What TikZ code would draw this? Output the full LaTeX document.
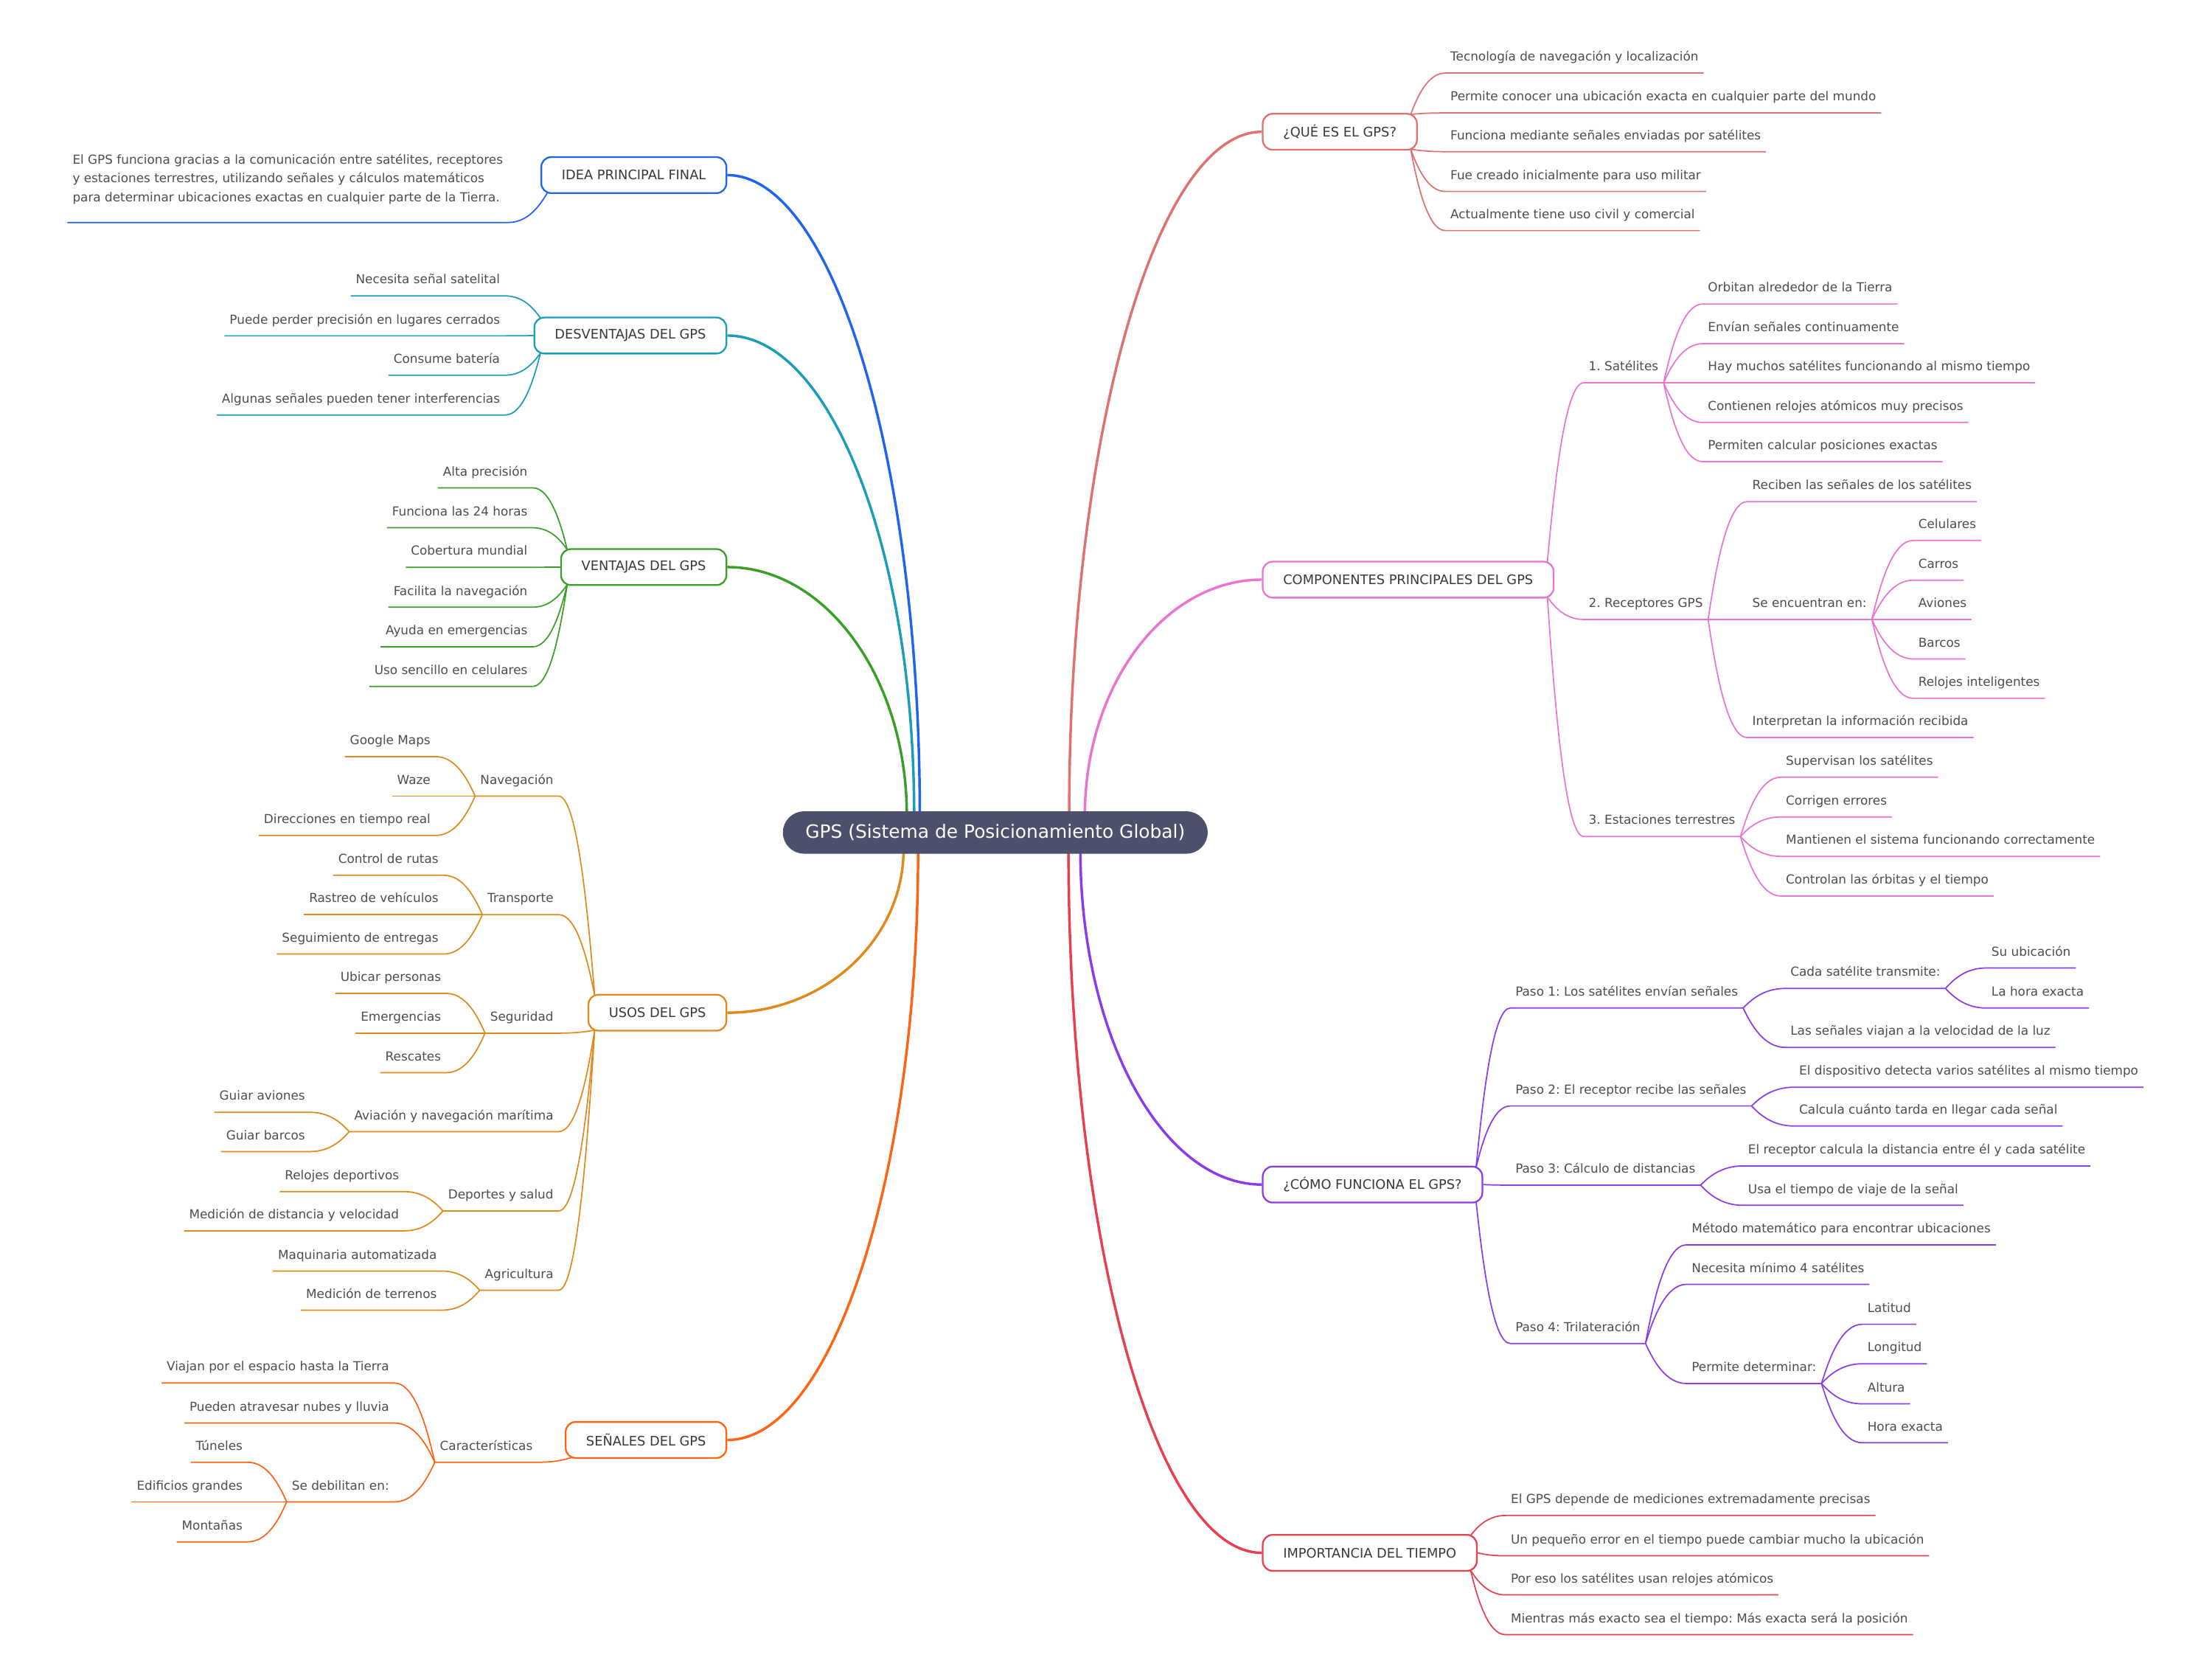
\documentclass[tikz,border=0pt]{standalone}
\usepackage{fontspec}
\setmainfont{DejaVu Sans}
\usetikzlibrary{calc}
\frenchspacing
\pgfdeclarelayer{bg}
\pgfsetlayers{bg,main}
\definecolor{cQue}{HTML}{E07171}
\definecolor{cComp}{HTML}{EA74CF}
\definecolor{cComo}{HTML}{8A3CEC}
\definecolor{cImp}{HTML}{E8404F}
\definecolor{cIdea}{HTML}{1E64F0}
\definecolor{cDesv}{HTML}{1A9EB8}
\definecolor{cVent}{HTML}{3A9E28}
\definecolor{cUsos}{HTML}{E08A1E}
\definecolor{cSen}{HTML}{FF6414}
\definecolor{rootfill}{HTML}{4C506A}
\definecolor{txt}{HTML}{4D4D4D}
\definecolor{boxtxt}{HTML}{383838}
\tikzset{
 leaf/.style={inner xsep=3.5pt, inner ysep=0pt, text height=7pt, text depth=8.3pt, font=\fontsize{8.8}{10.5}\selectfont\frenchspacing, text=txt},
 leafR/.style={leaf, anchor=south west},
 leafL/.style={leaf, anchor=south east},
 ideatext/.style={inner xsep=3.5pt, inner ysep=0pt, text depth=14.8pt, align=left, font=\fontsize{8.8}{13.3}\selectfont\frenchspacing, text=txt, anchor=south west},
 mbox/.style={draw=#1, line width=1.2pt, rounded corners=7pt, fill=white, font=\fontsize{9.3}{11}\selectfont, text=boxtxt, inner xsep=14.5pt, inner ysep=0pt, minimum height=25.5pt},
 mboxR/.style={mbox=#1, anchor=west},
 mboxL/.style={mbox=#1, anchor=east},
 rootbox/.style={fill=rootfill, rounded corners=15pt, text=white, font=\fontsize{13}{15}\selectfont, inner xsep=16pt, inner ysep=0pt, minimum height=30pt},
 mainline/.style={line width=1.8pt},
 subline/.style={line width=0.9pt, line join=round},
}
\newcommand\linkR[3]{\draw[#1,subline] let \p1=(#2), \p2=(#3.south west) in (#2) .. controls ({\x1+0.2*(\x2-\x1)},{\y1+0.45*(\y2-\y1)}) and ({\x1+0.5*(\x2-\x1)},\y2) .. (#3.south west) -- (#3.south east);}
\newcommand\linkL[3]{\draw[#1,subline] let \p1=(#2), \p2=(#3.south east) in (#2) .. controls ({\x1+0.2*(\x2-\x1)},{\y1+0.45*(\y2-\y1)}) and ({\x1+0.5*(\x2-\x1)},\y2) .. (#3.south east) -- (#3.south west);}
\newcommand\mainlink[4]{\draw[#1,mainline] let \p1=(#2), \p2=(#3.#4) in (#2) .. controls (\x1,{\y1+0.552*(\y2-\y1)}) and ({\x2-0.552*(\x2-\x1)},\y2) .. (#3.#4);}
\begin{document}
\begin{tikzpicture}[x=1pt,y=-1pt]
\begin{pgfonlayer}{bg}
\fill[white] (0,0) rectangle (1568,1180.2);
\end{pgfonlayer}
\useasboundingbox (0,0) rectangle (1568,1180.2);

% root
\node[rootbox] (root) at (705.5,590) {GPS (Sistema de Posicionamiento Global)};
\coordinate (oQ) at (757.9,578);
\coordinate (oC) at (769,578);
\coordinate (oH) at (765.8,602);
\coordinate (oM) at (757.4,602);
\coordinate (oI) at (652,578);
\coordinate (oD) at (648,578);
\coordinate (oV) at (642.8,578);
\coordinate (oU) at (640.5,602);
\coordinate (oS) at (650.8,602);

% main boxes
\node[mboxR=cQue] (q) at (894.5,93.4) {¿QUÉ ES EL GPS?};
\node[mboxR=cComp] (c) at (894.5,410.8) {COMPONENTES PRINCIPALES DEL GPS};
\node[mboxR=cComo] (h) at (894.5,839.5) {¿CÓMO FUNCIONA EL GPS?};
\node[mboxR=cImp] (m) at (894.5,1100.5) {IMPORTANCIA DEL TIEMPO};
\node[mboxL=cIdea] (i) at (515.5,124.1) {IDEA PRINCIPAL FINAL};
\node[mboxL=cDesv] (d) at (515.5,237.8) {DESVENTAJAS DEL GPS};
\node[mboxL=cVent] (v) at (515.5,401.9) {VENTAJAS DEL GPS};
\node[mboxL=cUsos] (u) at (515.5,717.7) {USOS DEL GPS};
\node[mboxL=cSen] (s) at (515.5,1020.5) {SEÑALES DEL GPS};

\foreach \b in {q,c,h,m}{
 \coordinate (\b U) at ($(\b.north east)+(-5,1)$);
 \coordinate (\b D) at ($(\b.south east)+(-5,-1)$);
}
\foreach \b in {i,d,v,u,s}{
 \coordinate (\b U) at ($(\b.north west)+(5,1)$);
 \coordinate (\b D) at ($(\b.south west)+(5,-1)$);
}

% QUE ES
\node[leafR] (q1) at (1024.5,51.8) {Tecnología de navegación y localización};
\node[leafR] (q2) at (1024.5,80.0) {Permite conocer una ubicación exacta en cualquier parte del mundo};
\node[leafR] (q3) at (1024.5,107.5) {Funciona mediante señales enviadas por satélites};
\node[leafR] (q4) at (1024.5,135.7) {Fue creado inicialmente para uso militar};
\node[leafR] (q5) at (1024.5,163.4) {Actualmente tiene uso civil y comercial};

% COMPONENTES
\node[leafR] (c1) at (1122.5,271.3) {1. Satélites};
\node[leafR] (c2) at (1122.5,439) {2. Receptores GPS};
\node[leafR] (c3) at (1122.5,592.8) {3. Estaciones terrestres};
\node[leafR] (c1a) at (1207,215.4) {Orbitan alrededor de la Tierra};
\node[leafR] (c1b) at (1207,243.6) {Envían señales continuamente};
\node[leafR] (c1c) at (1207,271.3) {Hay muchos satélites funcionando al mismo tiempo};
\node[leafR] (c1d) at (1207,299.4) {Contienen relojes atómicos muy precisos};
\node[leafR] (c1e) at (1207,327.2) {Permiten calcular posiciones exactas};
\node[leafR] (c2a) at (1238.5,355.5) {Reciben las señales de los satélites};
\node[leafR] (c2b) at (1238.5,439) {Se encuentran en:};
\node[leafR] (c2c) at (1238.5,522.7) {Interpretan la información recibida};
\node[leafR] (c2b1) at (1356.2,383) {Celulares};
\node[leafR] (c2b2) at (1356.2,411.2) {Carros};
\node[leafR] (c2b3) at (1356.2,439) {Aviones};
\node[leafR] (c2b4) at (1356.2,467) {Barcos};
\node[leafR] (c2b5) at (1356.2,494.9) {Relojes inteligentes};
\node[leafR] (c3a) at (1262.3,550.8) {Supervisan los satélites};
\node[leafR] (c3b) at (1262.3,579) {Corrigen errores};
\node[leafR] (c3c) at (1262.3,606.9) {Mantienen el sistema funcionando correctamente};
\node[leafR] (c3d) at (1262.3,635) {Controlan las órbitas y el tiempo};

% COMO FUNCIONA
\node[leafR] (h1) at (1070.5,714.4) {Paso 1: Los satélites envían señales};
\node[leafR] (h2) at (1070.5,783.8) {Paso 2: El receptor recibe las señales};
\node[leafR] (h3) at (1070.5,839.9) {Paso 3: Cálculo de distancias};
\node[leafR] (h4) at (1070.5,952.1) {Paso 4: Trilateración};
\node[leafR] (h1a) at (1265.5,700.5) {Cada satélite transmite:};
\node[leafR] (h1b) at (1265.5,742.3) {Las señales viajan a la velocidad de la luz};
\node[leafR] (h1a1) at (1408,686) {Su ubicación};
\node[leafR] (h1a2) at (1408,714.4) {La hora exacta};
\node[leafR] (h2a) at (1271.7,770.5) {El dispositivo detecta varios satélites al mismo tiempo};
\node[leafR] (h2b) at (1271.7,798) {Calcula cuánto tarda en llegar cada señal};
\node[leafR] (h3a) at (1235.5,826.3) {El receptor calcula la distancia entre él y cada satélite};
\node[leafR] (h3b) at (1235.5,854.2) {Usa el tiempo de viaje de la señal};
\node[leafR] (h4a) at (1195.5,882.2) {Método matemático para encontrar ubicaciones};
\node[leafR] (h4b) at (1195.5,910.2) {Necesita mínimo 4 satélites};
\node[leafR] (h4c) at (1195.5,980.5) {Permite determinar:};
\node[leafR] (h4c1) at (1320.1,938.5) {Latitud};
\node[leafR] (h4c2) at (1320.1,966.5) {Longitud};
\node[leafR] (h4c3) at (1320.1,994.9) {Altura};
\node[leafR] (h4c4) at (1320.1,1022.5) {Hora exacta};

% IMPORTANCIA
\node[leafR] (m1) at (1067.3,1074) {El GPS depende de mediciones extremadamente precisas};
\node[leafR] (m2) at (1067.3,1102.6) {Un pequeño error en el tiempo puede cambiar mucho la ubicación};
\node[leafR] (m3) at (1067.3,1130.3) {Por eso los satélites usan relojes atómicos};
\node[leafR] (m4) at (1067.3,1158.5) {Mientras más exacto sea el tiempo: Más exacta será la posición};

% IDEA
\node[ideatext] (i1) at (47.8,157.7) {El GPS funciona gracias a la comunicación entre satélites, receptores\\y estaciones terrestres, utilizando señales y cálculos matemáticos\\para determinar ubicaciones exactas en cualquier parte de la Tierra.};

% DESVENTAJAS
\node[leafL] (d1) at (358.1,209.7) {Necesita señal satelital};
\node[leafL] (d2) at (358.1,238) {Puede perder precisión en lugares cerrados};
\node[leafL] (d3) at (358.1,265.9) {Consume batería};
\node[leafL] (d4) at (358.1,294.1) {Algunas señales pueden tener interferencias};

% VENTAJAS
\node[leafL] (v1) at (377.6,345.7) {Alta precisión};
\node[leafL] (v2) at (377.6,374) {Funciona las 24 horas};
\node[leafL] (v3) at (377.6,402) {Cobertura mundial};
\node[leafL] (v4) at (377.6,430.3) {Facilita la navegación};
\node[leafL] (v5) at (377.6,458.4) {Ayuda en emergencias};
\node[leafL] (v6) at (377.6,486.5) {Uso sencillo en celulares};

% USOS
\node[leafL] (u1) at (396,564.2) {Navegación};
\node[leafL] (u2) at (396,648.2) {Transporte};
\node[leafL] (u3) at (396,732.2) {Seguridad};
\node[leafL] (u4) at (396,802) {Aviación y navegación marítima};
\node[leafL] (u5) at (396,858.2) {Deportes y salud};
\node[leafL] (u6) at (396,914.4) {Agricultura};
\node[leafL] (u1a) at (308.8,536.2) {Google Maps};
\node[leafL] (u1b) at (308.8,564.2) {Waze};
\node[leafL] (u1c) at (308.8,592.1) {Direcciones en tiempo real};
\node[leafL] (u2a) at (314.5,620.3) {Control de rutas};
\node[leafL] (u2b) at (314.5,648.2) {Rastreo de vehículos};
\node[leafL] (u2c) at (314.5,676.1) {Seguimiento de entregas};
\node[leafL] (u3a) at (316.3,704) {Ubicar personas};
\node[leafL] (u3b) at (316.3,732.2) {Emergencias};
\node[leafL] (u3c) at (316.3,760.2) {Rescates};
\node[leafL] (u4a) at (219.9,788.3) {Guiar aviones};
\node[leafL] (u4b) at (219.9,816.1) {Guiar barcos};
\node[leafL] (u5a) at (286.5,844.5) {Relojes deportivos};
\node[leafL] (u5b) at (286.5,872.3) {Medición de distancia y velocidad};
\node[leafL] (u6a) at (313.3,900.8) {Maquinaria automatizada};
\node[leafL] (u6b) at (313.3,928.5) {Medición de terrenos};

% SENALES
\node[leafL] (s1) at (381.2,1036.3) {Características};
\node[leafL] (s1a) at (279.5,980.1) {Viajan por el espacio hasta la Tierra};
\node[leafL] (s1b) at (279.5,1008.5) {Pueden atravesar nubes y lluvia};
\node[leafL] (s1c) at (279.5,1064.4) {Se debilitan en:};
\node[leafL] (s1c1) at (175.6,1036.3) {Túneles};
\node[leafL] (s1c2) at (175.6,1064.4) {Edificios grandes};
\node[leafL] (s1c3) at (175.6,1092.7) {Montañas};

\begin{pgfonlayer}{bg}
% main curves
\mainlink{cQue}{oQ}{q}{west}
\mainlink{cComp}{oC}{c}{west}
\mainlink{cComo}{oH}{h}{west}
\mainlink{cImp}{oM}{m}{west}
\mainlink{cIdea}{oI}{i}{east}
\mainlink{cDesv}{oD}{d}{east}
\mainlink{cVent}{oV}{v}{east}
\mainlink{cUsos}{oU}{u}{east}
\mainlink{cSen}{oS}{s}{east}
% que es
\linkR{cQue}{qU}{q1}
\linkR{cQue}{qU}{q2}
\linkR{cQue}{qD}{q3}
\linkR{cQue}{qD}{q4}
\linkR{cQue}{qD}{q5}
% componentes
\linkR{cComp}{cU}{c1}
\linkR{cComp}{cD}{c2}
\linkR{cComp}{cD}{c3}
\foreach \k in {c1a,c1b,c1c,c1d,c1e}{\linkR{cComp}{c1.south east}{\k}}
\foreach \k in {c2a,c2b,c2c}{\linkR{cComp}{c2.south east}{\k}}
\foreach \k in {c2b1,c2b2,c2b3,c2b4,c2b5}{\linkR{cComp}{c2b.south east}{\k}}
\foreach \k in {c3a,c3b,c3c,c3d}{\linkR{cComp}{c3.south east}{\k}}
% como funciona
\linkR{cComo}{hU}{h1}
\linkR{cComo}{hU}{h2}
\linkR{cComo}{h.east}{h3}
\linkR{cComo}{hD}{h4}
\foreach \k in {h1a,h1b}{\linkR{cComo}{h1.south east}{\k}}
\foreach \k in {h1a1,h1a2}{\linkR{cComo}{h1a.south east}{\k}}
\foreach \k in {h2a,h2b}{\linkR{cComo}{h2.south east}{\k}}
\foreach \k in {h3a,h3b}{\linkR{cComo}{h3.south east}{\k}}
\foreach \k in {h4a,h4b,h4c}{\linkR{cComo}{h4.south east}{\k}}
\foreach \k in {h4c1,h4c2,h4c3,h4c4}{\linkR{cComo}{h4c.south east}{\k}}
% importancia
\linkR{cImp}{mU}{m1}
\linkR{cImp}{m.east}{m2}
\linkR{cImp}{mD}{m3}
\linkR{cImp}{mD}{m4}
% idea
\linkL{cIdea}{iD}{i1}
% desventajas
\linkL{cDesv}{dU}{d1}
\linkL{cDesv}{d.west}{d2}
\linkL{cDesv}{dD}{d3}
\linkL{cDesv}{dD}{d4}
% ventajas
\linkL{cVent}{vU}{v1}
\linkL{cVent}{vU}{v2}
\linkL{cVent}{v.west}{v3}
\linkL{cVent}{vD}{v4}
\linkL{cVent}{vD}{v5}
\linkL{cVent}{vD}{v6}
% usos
\linkL{cUsos}{uU}{u1}
\linkL{cUsos}{uU}{u2}
\foreach \k in {u3,u4,u5,u6}{\linkL{cUsos}{uD}{\k}}
\foreach \k in {u1a,u1b,u1c}{\linkL{cUsos}{u1.south west}{\k}}
\foreach \k in {u2a,u2b,u2c}{\linkL{cUsos}{u2.south west}{\k}}
\foreach \k in {u3a,u3b,u3c}{\linkL{cUsos}{u3.south west}{\k}}
\foreach \k in {u4a,u4b}{\linkL{cUsos}{u4.south west}{\k}}
\foreach \k in {u5a,u5b}{\linkL{cUsos}{u5.south west}{\k}}
\foreach \k in {u6a,u6b}{\linkL{cUsos}{u6.south west}{\k}}
% senales
\linkL{cSen}{sD}{s1}
\foreach \k in {s1a,s1b,s1c}{\linkL{cSen}{s1.south west}{\k}}
\foreach \k in {s1c1,s1c2,s1c3}{\linkL{cSen}{s1c.south west}{\k}}
\end{pgfonlayer}
\end{tikzpicture}
\end{document}
